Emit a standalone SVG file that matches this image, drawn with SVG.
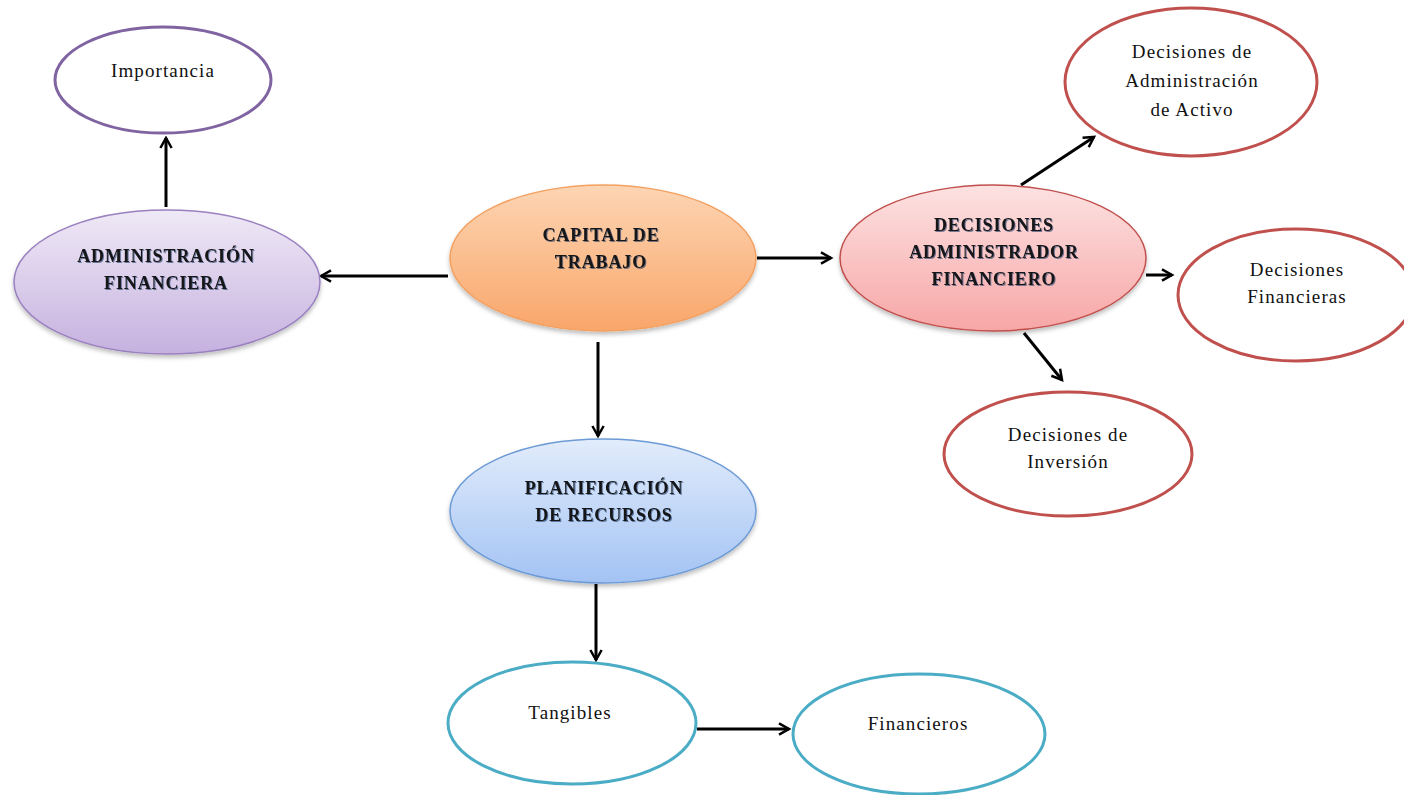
<svg xmlns="http://www.w3.org/2000/svg" width="1404" height="795" viewBox="0 0 1404 795">
  <defs>
    <style>
      .lbl { font-family: "Liberation Serif", "Times New Roman", serif; font-size: 19px; letter-spacing: 1.1px; fill: #111; text-anchor: middle; }
      .bold { font-family: "Liberation Serif", "Times New Roman", serif; font-size: 18px; letter-spacing: 0.9px; font-weight: bold; fill: #141414; text-anchor: middle; filter: url(#txtShadow); }
      .outline { fill: #ffffff; stroke-width: 3; }
      .filled { stroke-width: 1.5; filter: url(#nodeShadow); }
      .edge { stroke: #000; stroke-width: 3; fill: none; marker-end: url(#arrow); }
    </style>
    <marker id="arrow" viewBox="0 0 12 12" refX="10" refY="6" markerWidth="5" markerHeight="5" markerUnits="strokeWidth" orient="auto">
      <path d="M2,1.5 L10,6 L2,10.5" fill="none" stroke="#000" stroke-width="2"/>
    </marker>
    <filter id="txtShadow" x="-10%" y="-30%" width="120%" height="160%">
      <feDropShadow dx="1" dy="1" stdDeviation="0.6" flood-color="#1f3a6b" flood-opacity="0.6"/>
    </filter>
    <filter id="nodeShadow" x="-10%" y="-10%" width="120%" height="130%">
      <feDropShadow dx="0" dy="3" stdDeviation="2" flood-color="#000" flood-opacity="0.25"/>
    </filter>
    <linearGradient id="gPurple" x1="0" y1="0" x2="0" y2="1">
      <stop offset="0" stop-color="#efe9f6"/>
      <stop offset="1" stop-color="#c6b1df"/>
    </linearGradient>
    <linearGradient id="gOrange" x1="0" y1="0" x2="0" y2="1">
      <stop offset="0" stop-color="#fdd5b3"/>
      <stop offset="1" stop-color="#f9a66a"/>
    </linearGradient>
    <linearGradient id="gPink" x1="0" y1="0" x2="0" y2="1">
      <stop offset="0" stop-color="#fde2e2"/>
      <stop offset="1" stop-color="#f7a6a6"/>
    </linearGradient>
    <linearGradient id="gBlue" x1="0" y1="0" x2="0" y2="1">
      <stop offset="0" stop-color="#e2ecfb"/>
      <stop offset="1" stop-color="#a3c3f4"/>
    </linearGradient>
  </defs>

  <!-- connectors -->
  <g id="connectors">
    <line class="edge" x1="166" y1="207" x2="166" y2="138"/>
    <line class="edge" x1="448" y1="276" x2="321" y2="276"/>
    <line class="edge" x1="757" y1="258" x2="831" y2="258"/>
    <line class="edge" x1="1021" y1="185" x2="1094" y2="137"/>
    <line class="edge" x1="1146" y1="275" x2="1172" y2="275"/>
    <line class="edge" x1="1024" y1="333" x2="1062" y2="380"/>
    <line class="edge" x1="598" y1="342" x2="598" y2="436"/>
    <line class="edge" x1="596" y1="584" x2="596" y2="660"/>
    <line class="edge" x1="697" y1="729" x2="789" y2="729"/>
  </g>

  <g id="importancia">
    <ellipse class="outline" cx="163" cy="80" rx="108" ry="53" stroke="#8064a2"/>
    <text class="lbl" x="163" y="77">Importancia</text>
  </g>

  <g id="administracion-financiera">
    <ellipse class="filled" cx="167" cy="282" rx="153" ry="72" fill="url(#gPurple)" stroke="#9a80bf"/>
    <text class="bold" x="166" y="262">ADMINISTRACIÓN</text>
    <text class="bold" x="166" y="289">FINANCIERA</text>
  </g>

  <g id="capital-de-trabajo">
    <ellipse class="filled" cx="603" cy="258" rx="153" ry="73" fill="url(#gOrange)" stroke="#f3a060"/>
    <text class="bold" x="601" y="241">CAPITAL DE</text>
    <text class="bold" x="601" y="268">TRABAJO</text>
  </g>

  <g id="decisiones-administrador">
    <ellipse class="filled" cx="993" cy="258" rx="153" ry="73" fill="url(#gPink)" stroke="#c0504d"/>
    <text class="bold" x="994" y="231">DECISIONES</text>
    <text class="bold" x="994" y="258">ADMINISTRADOR</text>
    <text class="bold" x="994" y="285">FINANCIERO</text>
  </g>

  <g id="decisiones-activo">
    <ellipse class="outline" cx="1191" cy="82" rx="126" ry="74" stroke="#c0504d"/>
    <text class="lbl" x="1192" y="58">Decisiones de</text>
    <text class="lbl" x="1192" y="87">Administración</text>
    <text class="lbl" x="1192" y="116">de Activo</text>
  </g>

  <g id="decisiones-financieras">
    <ellipse class="outline" cx="1296" cy="295" rx="118" ry="66" stroke="#c0504d"/>
    <text class="lbl" x="1297" y="276">Decisiones</text>
    <text class="lbl" x="1297" y="303">Financieras</text>
  </g>

  <g id="decisiones-inversion">
    <ellipse class="outline" cx="1068" cy="454" rx="124" ry="62" stroke="#c0504d"/>
    <text class="lbl" x="1068" y="441">Decisiones de</text>
    <text class="lbl" x="1068" y="468">Inversión</text>
  </g>

  <g id="planificacion-recursos">
    <ellipse class="filled" cx="603" cy="511" rx="153" ry="72" fill="url(#gBlue)" stroke="#6d9bd6"/>
    <text class="bold" x="604" y="494">PLANIFICACIÓN</text>
    <text class="bold" x="604" y="521">DE RECURSOS</text>
  </g>

  <g id="tangibles">
    <ellipse class="outline" cx="572" cy="723" rx="124" ry="61" stroke="#4bacc6"/>
    <text class="lbl" x="570" y="719">Tangibles</text>
  </g>

  <g id="financieros">
    <ellipse class="outline" cx="919" cy="734" rx="126" ry="60" stroke="#4bacc6"/>
    <text class="lbl" x="918" y="730">Financieros</text>
  </g>
</svg>
